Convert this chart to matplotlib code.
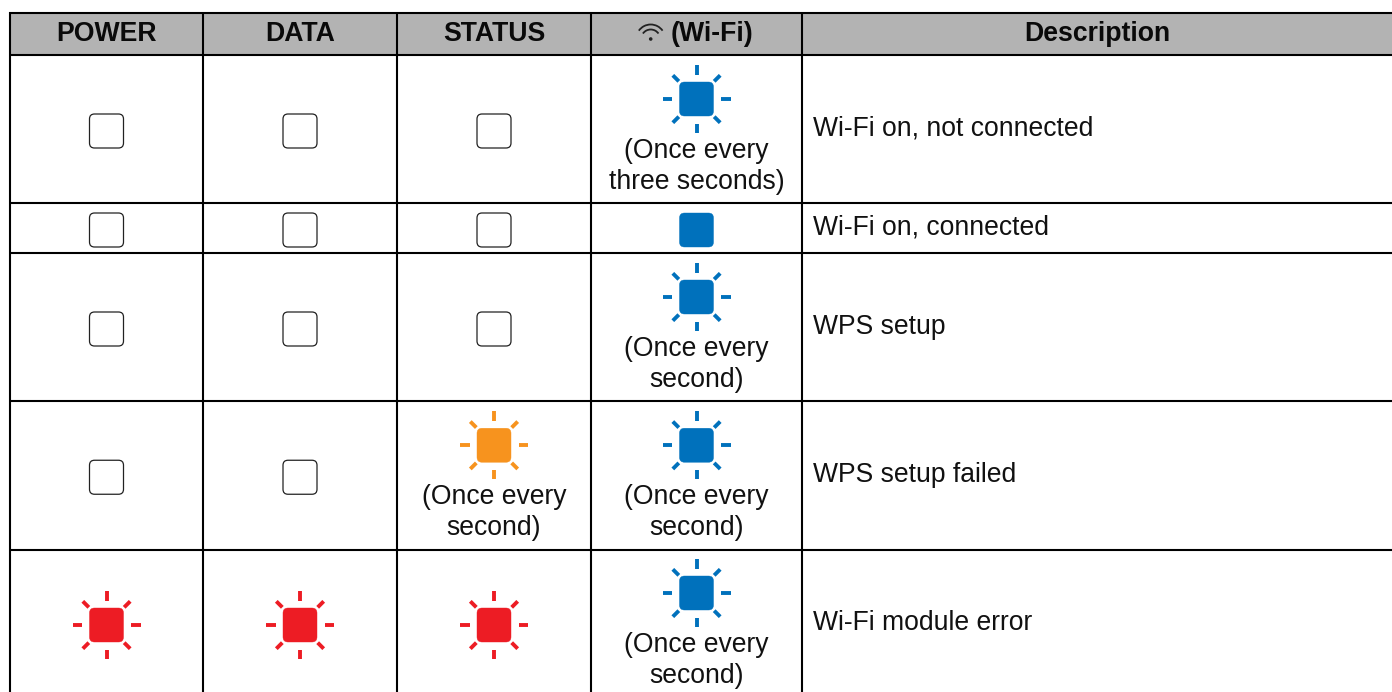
import numpy as np
import matplotlib.pyplot as plt
from matplotlib.patches import FancyBboxPatch, Arc, Circle, Rectangle

plt.rcParams['font.family'] = ['Liberation Sans', 'DejaVu Sans']

headers = ["POWER", "DATA", "STATUS", "(Wi-Fi)", "Description"]
descriptions = ["Wi-Fi on, not connected", "Wi-Fi on, connected", "WPS setup",
                "WPS setup failed", "Wi-Fi module error"]

# o = off, blue / orange / red, upper case = steady
power_leds = ["o", "o", "o", "o", "red"]
data_leds = ["o", "o", "o", "o", "red"]
status_leds = ["o", "o", "o", "orange", "red"]
wifi_leds = ["blue", "BLUE", "blue", "blue", "blue"]

status_notes = [None, None, None, ["(Once every", "second)"], None]
wifi_notes = [["(Once every", "three seconds)"], None, ["(Once every", "second)"],
              ["(Once every", "second)"], ["(Once every", "second)"]]

col_edges = [10, 203, 397, 591, 802, 1392]
row_edges = [55, 203, 253, 401, 549.5, 696.5]
header_top = 13

colors = {"blue": "#0071bc", "orange": "#f7931e", "red": "#ed1c24"}

fig = plt.figure(figsize=(13.92, 6.92), dpi=100)
ax = fig.add_axes([0, 0, 1, 1])
ax.set_xlim(0, 1392)
ax.set_ylim(692, 0)
ax.axis("off")


def draw_led(cx, cy, state):
    if state == "o":
        face, edge = "white", "#222222"
    else:
        face = colors[state.lower()]
        edge = face
    size = 34
    r = 5
    ax.add_patch(FancyBboxPatch((cx - size/2 + r, cy - size/2 + r), size - 2*r, size - 2*r,
                                boxstyle="round,pad=%d,rounding_size=%d" % (r, r),
                                fc=face, ec=edge, lw=0.9 if state == "o" else 0.3, zorder=3))
    if state != "o" and state == state.lower():
        for ang in np.arange(0, 360, 45):
            a = np.radians(ang)
            diag = ang % 90 != 0
            r0, r1 = (25, 33.5) if diag else (24.5, 34)
            ax.plot([cx + r0*np.cos(a), cx + r1*np.cos(a)], [cy + r0*np.sin(a), cy + r1*np.sin(a)],
                    color=face, lw=2.8, solid_capstyle="butt", zorder=3)


# header band
ax.add_patch(Rectangle((col_edges[0], header_top), 1392 - col_edges[0], row_edges[0] - header_top,
                       fc="#b3b3b3", ec="none", zorder=0))

# grid
for y in [header_top] + row_edges[:-1]:
    ax.plot([col_edges[0] - 1, 1392], [y, y], color="black", lw=1.5, solid_capstyle="butt", zorder=2)
for x in col_edges[:-1]:
    ax.plot([x, x], [header_top - 1, 692], color="black", lw=1.5, solid_capstyle="butt", zorder=2)

# header text
header_y = 34
for i, h in enumerate(headers):
    x = (col_edges[i] + col_edges[i+1]) / 2
    if h == "(Wi-Fi)":
        x = 712.5
    ax.text(x, header_y, h, ha="center", va="center", fontsize=19.2, fontweight="bold", color="#0a0a0a")

# wifi symbol
wx, wy = 650.7, 39
for rad in [9.5, 14.5]:
    ax.add_patch(Arc((wx, wy), 2*rad, 2*rad, theta1=215, theta2=325, color="#222222", lw=1.3, zorder=3))
ax.add_patch(Circle((wx, wy), 1.8, fc="#222222", ec="none", zorder=3))

# body
led_cols = [power_leds, data_leds, status_leds, wifi_leds]
note_cols = [None, None, status_notes, wifi_notes]
for r in range(5):
    mid = (row_edges[r] + row_edges[r+1]) / 2
    for c in range(4):
        cx = (col_edges[c] + col_edges[c+1]) / 2
        notes = note_cols[c][r] if note_cols[c] else None
        if notes:
            top = mid - 33
            draw_led(cx, top + 3, led_cols[c][r])
            ax.text(cx, top + 54.5, notes[0], ha="center", va="center", fontsize=19.1, color="#111111")
            ax.text(cx, top + 86, notes[1], ha="center", va="center", fontsize=19.1, color="#111111")
        else:
            draw_led(cx, mid + 2, led_cols[c][r])
    ax.text(813, mid - 0.5, descriptions[r], ha="left", va="center", fontsize=19.1, color="#111111")

fig.savefig("out.png", dpi=100)
